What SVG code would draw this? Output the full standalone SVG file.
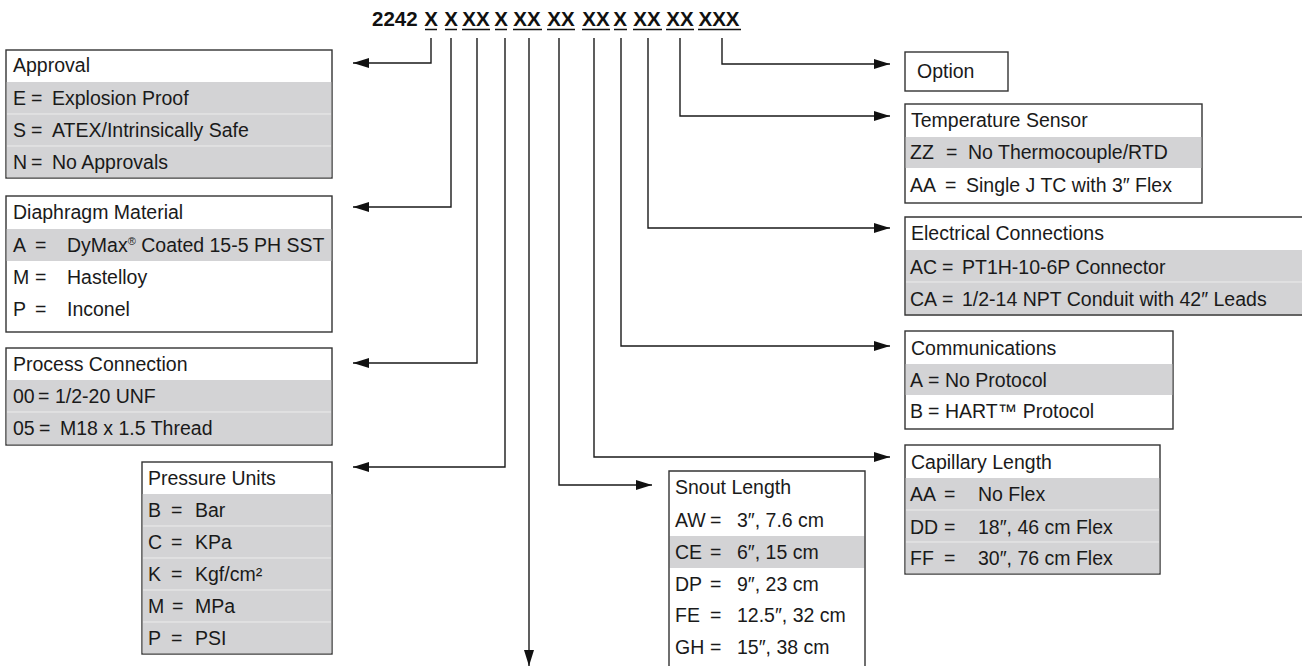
<svg xmlns="http://www.w3.org/2000/svg" width="1302" height="666" viewBox="0 0 1302 666">
<defs>
<marker id="ah" markerUnits="userSpaceOnUse" markerWidth="16" markerHeight="10" refX="16" refY="5" orient="auto">
<path d="M0,0 L16,5 L0,10 z" fill="#111"/>
</marker>
<style>
.t{font-family:"Liberation Sans",Arial,sans-serif;font-size:19.5px;fill:#1a1a1a}
.title{font-family:"Liberation Sans",Arial,sans-serif;font-size:20.5px;font-weight:bold;fill:#111}
.box{fill:#fff;stroke:#333;stroke-width:1.4}
.g{fill:#d3d3d5}
.sep{stroke:#ececec;stroke-width:1}
.ul{stroke:#111;stroke-width:1.3}
.c{fill:none;stroke:#1a1a1a;stroke-width:1.4;marker-end:url(#ah)}
.sup{font-size:11px}
</style>
</defs>
<rect width="1302" height="666" fill="#fff"/>

<g id="title">
<text class="title" x="372" y="26">2242</text>
<text class="title" text-anchor="middle" y="26"><tspan x="431">X</tspan><tspan x="451">X</tspan><tspan x="476">XX</tspan><tspan x="501">X</tspan><tspan x="527">XX</tspan><tspan x="561">XX</tspan><tspan x="596">XX</tspan><tspan x="620">X</tspan><tspan x="647">XX</tspan><tspan x="680">XX</tspan><tspan x="719">XXX</tspan></text>
<path class="ul" d="M425,29.5H437M445,29.5H457M462,29.5H490M495,29.5H507M513,29.5H542M547,29.5H575M582,29.5H610M614,29.5H627M633,29.5H662M666,29.5H694M698,29.5H741"/>
</g>

<g id="connectors">
<path class="c" d="M431,38V63H353"/>
<path class="c" d="M451,38V207H353"/>
<path class="c" d="M477,38V363H353"/>
<path class="c" d="M505,38V467H353"/>
<path class="c" d="M529,38V666"/>
<path class="c" d="M559,38V485H652"/>
<path class="c" d="M594,38V457H890"/>
<path class="c" d="M621,38V346H890"/>
<path class="c" d="M648,38V228H890"/>
<path class="c" d="M680,38V116H890"/>
<path class="c" d="M722,38V64H890"/>
</g>

<g id="approval">
<rect class="box" x="6" y="50" width="326" height="128"/>
<rect class="g" x="6.7" y="82" width="324.6" height="95.3"/>
<path class="sep" d="M7,114H331M7,146H331"/>
<text class="t" x="13" y="72">Approval</text>
<text class="t" y="105"><tspan x="13">E</tspan><tspan x="31">=</tspan><tspan x="52">Explosion Proof</tspan></text>
<text class="t" y="137"><tspan x="13">S</tspan><tspan x="31">=</tspan><tspan x="52">ATEX/Intrinsically Safe</tspan></text>
<text class="t" y="169"><tspan x="13">N</tspan><tspan x="31">=</tspan><tspan x="52">No Approvals</tspan></text>
</g>

<g id="diaphragm">
<rect class="box" x="6" y="196" width="326" height="136"/>
<rect class="g" x="6.7" y="229" width="324.6" height="32"/>
<text class="t" x="13" y="219">Diaphragm Material</text>
<text class="t" y="252"><tspan x="13">A</tspan><tspan x="35">=</tspan><tspan x="67">DyMax</tspan><tspan class="sup" dy="-7">®</tspan><tspan dy="7"> Coated 15-5 PH SST</tspan></text>
<text class="t" y="284"><tspan x="13">M</tspan><tspan x="35">=</tspan><tspan x="67">Hastelloy</tspan></text>
<text class="t" y="316"><tspan x="13">P</tspan><tspan x="35">=</tspan><tspan x="67">Inconel</tspan></text>
</g>

<g id="process">
<rect class="box" x="6" y="348" width="326" height="97"/>
<rect class="g" x="6.7" y="380" width="324.6" height="64.3"/>
<path class="sep" d="M7,412H331"/>
<text class="t" x="13" y="371">Process Connection</text>
<text class="t" y="403"><tspan x="13">00</tspan><tspan x="38">=</tspan><tspan x="55">1/2-20 UNF</tspan></text>
<text class="t" y="435"><tspan x="13">05</tspan><tspan x="39">=</tspan><tspan x="60">M18 x 1.5 Thread</tspan></text>
</g>

<g id="pressure">
<rect class="box" x="142" y="462" width="190" height="192"/>
<rect class="g" x="142.7" y="494" width="188.6" height="159.3"/>
<path class="sep" d="M143,526H331M143,558H331M143,590H331M143,622H331"/>
<text class="t" x="148" y="485">Pressure Units</text>
<text class="t" y="517"><tspan x="148">B</tspan><tspan x="171">=</tspan><tspan x="195">Bar</tspan></text>
<text class="t" y="549"><tspan x="148">C</tspan><tspan x="171">=</tspan><tspan x="195">KPa</tspan></text>
<text class="t" y="581"><tspan x="148">K</tspan><tspan x="171">=</tspan><tspan x="195">Kgf/cm²</tspan></text>
<text class="t" y="613"><tspan x="148">M</tspan><tspan x="172">=</tspan><tspan x="195">MPa</tspan></text>
<text class="t" y="645"><tspan x="148">P</tspan><tspan x="171">=</tspan><tspan x="195">PSI</tspan></text>
</g>

<g id="snout">
<rect class="g" x="669.7" y="536" width="194.6" height="32"/>
<path fill="none" stroke="#333" stroke-width="1.4" d="M669,670V471H865V670"/>
<text class="t" x="675" y="494">Snout Length</text>
<text class="t" y="527"><tspan x="675">AW</tspan><tspan x="710">=</tspan><tspan x="737">3″, 7.6 cm</tspan></text>
<text class="t" y="559"><tspan x="675">CE</tspan><tspan x="710">=</tspan><tspan x="737">6″, 15 cm</tspan></text>
<text class="t" y="591"><tspan x="675">DP</tspan><tspan x="710">=</tspan><tspan x="737">9″, 23 cm</tspan></text>
<text class="t" y="622"><tspan x="675">FE</tspan><tspan x="710">=</tspan><tspan x="737">12.5″, 32 cm</tspan></text>
<text class="t" y="654"><tspan x="675">GH</tspan><tspan x="710">=</tspan><tspan x="737">15″, 38 cm</tspan></text>
</g>

<g id="option">
<rect class="box" x="905" y="52" width="103" height="39"/>
<text class="t" x="917" y="78">Option</text>
</g>

<g id="temperature">
<rect class="box" x="905" y="104" width="297" height="99"/>
<rect class="g" x="905.7" y="137" width="295.6" height="31"/>
<text class="t" x="911" y="127">Temperature Sensor</text>
<text class="t" y="159"><tspan x="910">ZZ</tspan><tspan x="946">=</tspan><tspan x="968">No Thermocouple/RTD</tspan></text>
<text class="t" y="192"><tspan x="910">AA</tspan><tspan x="945">=</tspan><tspan x="966">Single J TC with 3″ Flex</tspan></text>
</g>

<g id="electrical">
<rect class="g" x="905.7" y="250" width="400" height="64.3"/>
<path class="sep" d="M906,282H1302"/>
<path fill="none" stroke="#333" stroke-width="1.4" d="M1306,217H905V315H1306"/>
<text class="t" x="911" y="240">Electrical Connections</text>
<text class="t" y="274"><tspan x="910">AC</tspan><tspan x="942">=</tspan><tspan x="962">PT1H-10-6P Connector</tspan></text>
<text class="t" y="306"><tspan x="910">CA</tspan><tspan x="942">=</tspan><tspan x="962">1/2-14 NPT Conduit with 42″ Leads</tspan></text>
</g>

<g id="communications">
<rect class="box" x="905" y="331" width="268" height="98"/>
<rect class="g" x="905.7" y="364" width="266.6" height="31"/>
<text class="t" x="911" y="355">Communications</text>
<text class="t" y="387"><tspan x="910">A</tspan><tspan x="928">=</tspan><tspan x="945">No Protocol</tspan></text>
<text class="t" y="418"><tspan x="910">B</tspan><tspan x="928">=</tspan><tspan x="945">HART™ Protocol</tspan></text>
</g>

<g id="capillary">
<rect class="box" x="905" y="445" width="255" height="129"/>
<rect class="g" x="905.7" y="478" width="253.6" height="95.3"/>
<path class="sep" d="M906,510H1159M906,542H1159"/>
<text class="t" x="911" y="469">Capillary Length</text>
<text class="t" y="501"><tspan x="910">AA</tspan><tspan x="944">=</tspan><tspan x="978">No Flex</tspan></text>
<text class="t" y="534"><tspan x="910">DD</tspan><tspan x="944">=</tspan><tspan x="978">18″, 46 cm Flex</tspan></text>
<text class="t" y="565"><tspan x="910">FF</tspan><tspan x="944">=</tspan><tspan x="978">30″, 76 cm Flex</tspan></text>
</g>
</svg>
